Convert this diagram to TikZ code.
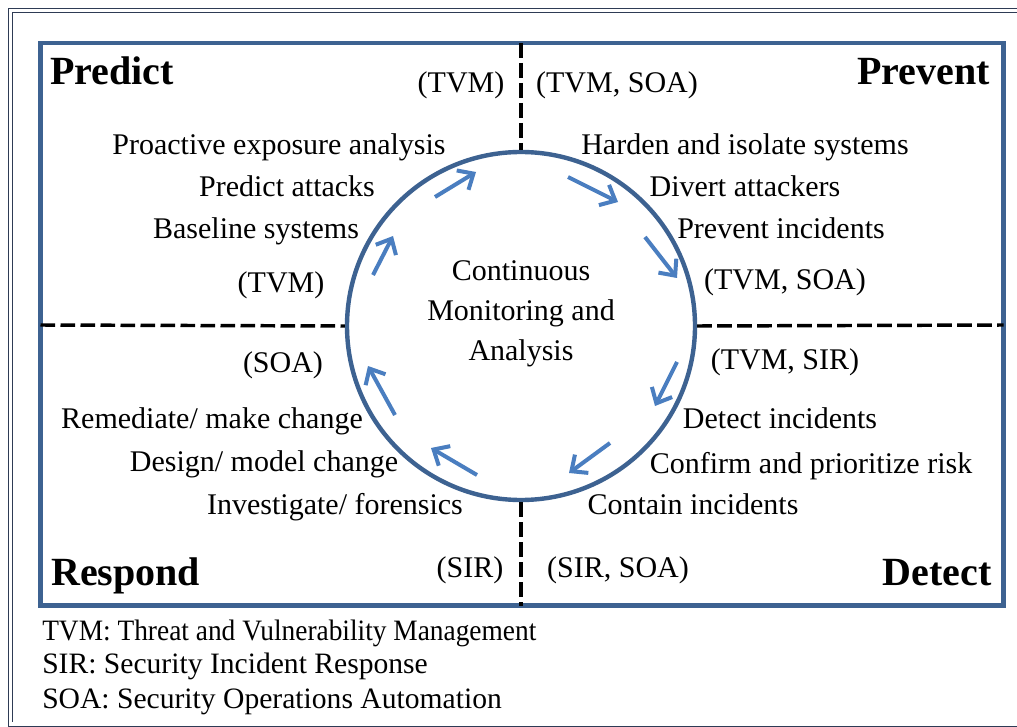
\documentclass[tikz,border=0pt]{standalone}
\usepackage{fontspec}
\setmainfont{Liberation Serif}
\usetikzlibrary{arrows.meta}
\definecolor{framedark}{HTML}{2E3B55}
\definecolor{frameblue}{HTML}{3D6291}
\definecolor{arrowblue}{HTML}{4A7EC0}
\tikzset{
  txt/.style={anchor=base, inner sep=0pt, font=\fontsize{22.5}{27}\selectfont},
  head/.style={anchor=base, inner sep=0pt, font=\fontsize{30}{36}\selectfont\bfseries},
  legend/.style={anchor=base west, inner sep=0pt, font=\fontsize{22.2}{26}\selectfont},
  divider/.style={line width=2.6pt, dash pattern=on 11pt off 4pt},
  cyc/.style={arrowblue, line width=3pt, -{Straight Barb[length=9.5pt,width=17pt]}},
}
\begin{document}
\begin{tikzpicture}[x=0.75pt,y=-0.75pt]
\useasboundingbox (0,0) rectangle (1017,727);
\fill[white] (0,0) rectangle (1017,727);
% outer double frame
\draw[framedark, line width=1.4pt] (8.5,8.5) -- (1030,8.5);
\draw[framedark, line width=1.4pt] (8.5,8.5) -- (8.5,726.5) -- (1030,726.5);
\draw[framedark, line width=0.8pt] (12.5,12.5) -- (1030,12.5);
\draw[framedark, line width=0.8pt] (12.5,12.5) -- (12.5,722);
% inner blue frame
\draw[frameblue, line width=3.4pt] (40.5,43) rectangle (1003.5,605.5);
% circle
\node[circle, draw=frameblue, line width=3.3pt, fill=white, minimum size=348*0.75pt, inner sep=0pt] (c) at (521,326) {};
% dividers
\coordinate (top) at (521,43);
\coordinate (bot) at (521,605.5);
\coordinate (lft) at (40.5,325);
\coordinate (rgt) at (1003.5,325);
\draw[divider] (top) -- (c.north);
\draw[divider] (c.south) -- (bot);
\draw[divider] (lft) -- (c.west);
\draw[divider] (c.east) -- (rgt);
% center text
\node[align=center, inner sep=0pt, font=\fontsize{22.5}{30}\selectfont] (ctext) at (521,314) {Continuous\\Monitoring and\\Analysis};
% cycle arrows
\coordinate (a1s) at (435,197); \coordinate (a1e) at (476,172);
\coordinate (a2s) at (568,177); \coordinate (a2e) at (618,202);
\coordinate (a3s) at (645,237); \coordinate (a3e) at (677,278);
\coordinate (a4s) at (677,362); \coordinate (a4e) at (655,406);
\coordinate (a5s) at (610,443); \coordinate (a5e) at (569,473);
\coordinate (a6s) at (477,475); \coordinate (a6e) at (431,448);
\coordinate (a7s) at (395,415); \coordinate (a7e) at (368,366);
\coordinate (a8s) at (373,275); \coordinate (a8e) at (393,236);
\draw[cyc] (a1s) -- (a1e);
\draw[cyc] (a2s) -- (a2e);
\draw[cyc] (a3s) -- (a3e);
\draw[cyc] (a4s) -- (a4e);
\draw[cyc] (a5s) -- (a5e);
\draw[cyc] (a6s) -- (a6e);
\draw[cyc] (a7s) -- (a7e);
\draw[cyc] (a8s) -- (a8e);
% headings
\node[head, anchor=base west] (predict) at (50,85) {Predict};
\node[head, anchor=base east] (prevent) at (990,85) {Prevent};
\node[head, anchor=base west] (respond) at (51,585) {Respond};
\node[head, anchor=base east] (detect) at (992,585) {Detect};
% predict quadrant
\node[txt] (p0) at (461,93) {(TVM)};
\node[txt] (p1) at (279,155) {Proactive exposure analysis};
\node[txt] (p2) at (287,197) {Predict attacks};
\node[txt] (p3) at (256,239) {Baseline systems};
\node[txt] (p4) at (281,292) {(TVM)};
% prevent quadrant
\node[txt] (v0) at (617,93) {(TVM, SOA)};
\node[txt] (v1) at (745,155) {Harden and isolate systems};
\node[txt] (v2) at (745,197) {Divert attackers};
\node[txt] (v3) at (781,239) {Prevent incidents};
\node[txt] (v4) at (785,290) {(TVM, SOA)};
% respond quadrant
\node[txt] (r0) at (283,372) {(SOA)};
\node[txt] (r1) at (212,428) {Remediate/ make change};
\node[txt] (r2) at (264,471) {Design/ model change};
\node[txt] (r3) at (335,514) {Investigate/ forensics};
\node[txt] (r4) at (470,577) {(SIR)};
% detect quadrant
\node[txt] (d0) at (785,369) {(TVM, SIR)};
\node[txt] (d1) at (780,428) {Detect incidents};
\node[txt] (d2) at (811,473) {Confirm and prioritize risk};
\node[txt] (d3) at (693,514) {Contain incidents};
\node[txt] (d4) at (618,577) {(SIR, SOA)};
% legend
\node[legend] (l1) at (42,640) {\scalebox{0.925}[1]{TVM: Threat and Vulnerability Management}};
\node[legend] (l2) at (42,673) {SIR: Security Incident Response};
\node[legend] (l3) at (42,708) {SOA: Security Operations Automation};
\end{tikzpicture}
\end{document}
